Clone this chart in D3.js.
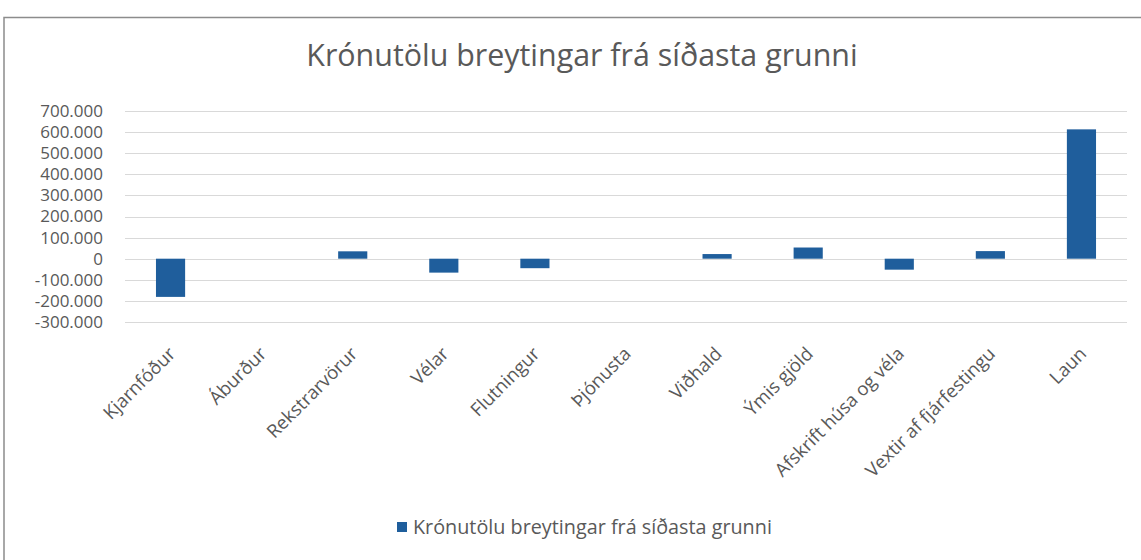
<!DOCTYPE html>
<html>
<head>
<meta charset="utf-8">
<script src="https://cdn.jsdelivr.net/npm/d3@7"></script>
<style>
    body { margin: 0; background: #fff; }
    text { font-family: "Open Sans", sans-serif; fill: #595959; }
</style>
</head>
<body>
<div id="chart"></div>
<script>
const categories = ["Kjarnfóður", "Áburður", "Rekstrarvörur", "Vélar", "Flutningur", "Þjónusta",
    "Viðhald", "Ýmis gjöld", "Afskrift húsa og véla", "Vextir af fjárfestingu", "Laun"];
const values = [-181000, 0, 35000, -66000, -45000, 0, 22000, 53000, -52000, 36000, 613000];
const yTicks = [-300000, -200000, -100000, 0, 100000, 200000, 300000, 400000, 500000, 600000, 700000];
const seriesName = "Krónutölu breytingar frá síðasta grunni";
const chartTitle = "Krónutölu breytingar frá síðasta grunni";

const width = 1141;
const height = 560;
const plot = { left: 125, right: 1127, top: 111, bottom: 322 };
const barColor = "#1F5E9C";

const locale = d3.formatLocale({ decimal: ",", thousands: ".", grouping: [3], currency: ["", ""], minus: "-" });
const fmt = locale.format(",d");

const svg = d3.select("#chart").append("svg")
    .attr("width", width)
    .attr("height", height);

// chart frame
svg.append("rect")
    .attr("x", 4)
    .attr("y", 17.5)
    .attr("width", 1200)
    .attr("height", 700)
    .attr("fill", "#fff")
    .attr("stroke", "#8c8c8c")
    .attr("stroke-width", 1.5);

const x = d3.scaleBand()
    .domain(categories)
    .range([plot.left, plot.right])
    .paddingInner(0.68)
    .paddingOuter(0.34);

const y = d3.scaleLinear()
    .domain([-300000, 700000])
    .range([plot.bottom, plot.top]);

// gridlines
svg.append("g")
    .selectAll("line")
    .data(yTicks)
    .join("line")
    .attr("x1", plot.left)
    .attr("x2", plot.right)
    .attr("y1", d => Math.round(y(d)) + 0.5)
    .attr("y2", d => Math.round(y(d)) + 0.5)
    .attr("stroke", "#d9d9d9")
    .attr("stroke-width", 1);

// y axis labels (tight spacing, like the original)
const yAxis = svg.append("g")
    .attr("transform", `translate(${plot.left - 22},0)`)
    .call(d3.axisLeft(y).tickValues(yTicks).tickFormat(fmt).tickSize(0).tickPadding(0));
yAxis.select(".domain").remove();
yAxis.selectAll("text")
    .attr("font-family", "DejaVu Sans")
    .attr("font-size", 17)
    .attr("fill", "#595959");

// bars
svg.append("g")
    .selectAll("rect")
    .data(values)
    .join("rect")
    .attr("x", (d, i) => x(categories[i]))
    .attr("width", x.bandwidth())
    .attr("y", d => y(Math.max(0, d)))
    .attr("height", d => Math.abs(y(d) - y(0)))
    .attr("fill", barColor);

// x axis labels, rotated
svg.append("g")
    .selectAll("text")
    .data(categories)
    .join("text")
    .attr("transform", d => `translate(${x(d) + x.bandwidth() / 2 + 6},${plot.bottom + 33}) rotate(-45)`)
    .attr("text-anchor", "end")
    .attr("font-size", 18.5)
    .text(d => d);

// title
svg.append("text")
    .attr("x", 582)
    .attr("y", 66)
    .attr("text-anchor", "middle")
    .attr("font-size", 30.4)
    .text(chartTitle);

// legend
const legend = svg.append("g");
legend.append("rect")
    .attr("x", 397)
    .attr("y", 522)
    .attr("width", 10)
    .attr("height", 10)
    .attr("fill", barColor);
legend.append("text")
    .attr("x", 413)
    .attr("y", 534)
    .attr("font-size", 19.8)
    .text(seriesName);
</script>
</body>
</html>
